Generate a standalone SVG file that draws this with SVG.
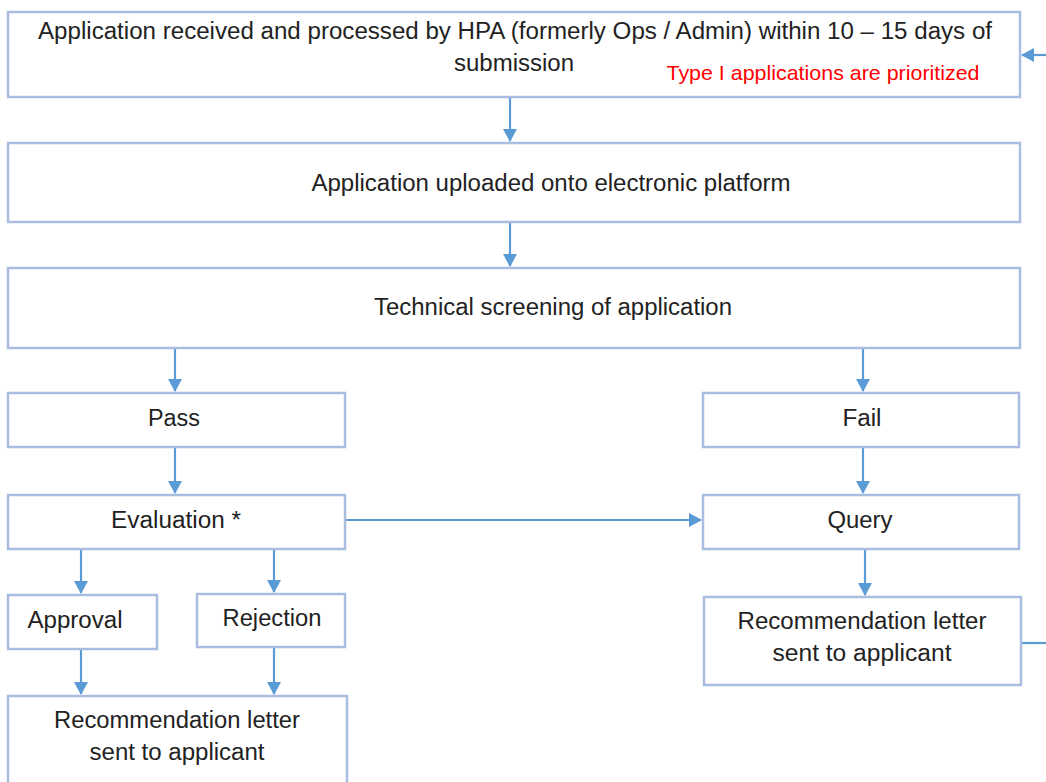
<svg xmlns="http://www.w3.org/2000/svg" width="1046" height="782" viewBox="0 0 1046 782">
<style>
.box{fill:#ffffff;stroke:#a9bde0;stroke-width:2.5}
.t{font-family:"Liberation Sans",Arial,sans-serif;font-size:23px;fill:#222222;text-anchor:middle}
.red{font-family:"Liberation Sans",Arial,sans-serif;font-size:21px;fill:#ff0000;text-anchor:middle}
.c{stroke:#5b9bd5;stroke-width:2.2;fill:none}
</style>
<defs>
<marker id="ah" markerWidth="14" markerHeight="14" refX="12" refY="7" orient="auto" markerUnits="userSpaceOnUse">
<path d="M0,0 L13,7 L0,14 Z" fill="#5b9bd5"/>
</marker>
</defs>
<rect width="1046" height="782" fill="#ffffff"/>
<g id="connectors">
<line class="c" x1="510" y1="98" x2="510" y2="141" marker-end="url(#ah)"/>
<line class="c" x1="510" y1="223" x2="510" y2="266" marker-end="url(#ah)"/>
<line class="c" x1="175" y1="349" x2="175" y2="391" marker-end="url(#ah)"/>
<line class="c" x1="863" y1="349" x2="863" y2="391" marker-end="url(#ah)"/>
<line class="c" x1="175" y1="448" x2="175" y2="493" marker-end="url(#ah)"/>
<line class="c" x1="863" y1="448" x2="863" y2="493" marker-end="url(#ah)"/>
<line class="c" x1="346" y1="520" x2="701" y2="520" marker-end="url(#ah)"/>
<line class="c" x1="81" y1="550" x2="81" y2="593" marker-end="url(#ah)"/>
<line class="c" x1="274" y1="550" x2="274" y2="592" marker-end="url(#ah)"/>
<line class="c" x1="81" y1="650" x2="81" y2="694" marker-end="url(#ah)"/>
<line class="c" x1="274" y1="648" x2="274" y2="694" marker-end="url(#ah)"/>
<line class="c" x1="865" y1="550" x2="865" y2="595" marker-end="url(#ah)"/>
<line class="c" x1="1022" y1="643" x2="1046" y2="643"/>
<line class="c" x1="1046" y1="55" x2="1022" y2="55" marker-end="url(#ah)"/>
</g>
<g id="n1">
<rect class="box" x="8" y="12" width="1012" height="85"/>
<text class="t" x="515" y="39" textLength="954" lengthAdjust="spacingAndGlyphs">Application received and processed by HPA (formerly Ops / Admin) within 10 – 15 days of</text>
<text class="t" x="514" y="71" textLength="120" lengthAdjust="spacingAndGlyphs">submission</text>
<text class="red" x="823" y="80" textLength="313" lengthAdjust="spacingAndGlyphs">Type I applications are prioritized</text>
</g>
<g id="n2">
<rect class="box" x="8" y="143" width="1012" height="79"/>
<text class="t" x="551" y="191" textLength="479" lengthAdjust="spacingAndGlyphs">Application uploaded onto electronic platform</text>
</g>
<g id="n3">
<rect class="box" x="8" y="268" width="1012" height="80"/>
<text class="t" x="553" y="315" textLength="358" lengthAdjust="spacingAndGlyphs">Technical screening of application</text>
</g>
<g id="pass">
<rect class="box" x="8" y="393" width="337" height="54"/>
<text class="t" x="174" y="426" textLength="52" lengthAdjust="spacingAndGlyphs">Pass</text>
</g>
<g id="fail">
<rect class="box" x="703" y="393" width="316" height="54"/>
<text class="t" x="862" y="426" textLength="39" lengthAdjust="spacingAndGlyphs">Fail</text>
</g>
<g id="evaluation">
<rect class="box" x="8" y="495" width="337" height="54"/>
<text class="t" x="176" y="528" textLength="130" lengthAdjust="spacingAndGlyphs">Evaluation *</text>
</g>
<g id="query">
<rect class="box" x="703" y="495" width="316" height="54"/>
<text class="t" x="860" y="528" textLength="65" lengthAdjust="spacingAndGlyphs">Query</text>
</g>
<g id="approval">
<rect class="box" x="8" y="595" width="149" height="54"/>
<text class="t" x="75" y="628" textLength="95" lengthAdjust="spacingAndGlyphs">Approval</text>
</g>
<g id="rejection">
<rect class="box" x="197" y="594" width="148" height="53"/>
<text class="t" x="272" y="626" textLength="99" lengthAdjust="spacingAndGlyphs">Rejection</text>
</g>
<g id="rec-left">
<rect class="box" x="8" y="696" width="339" height="95"/>
<text class="t" x="177" y="728" textLength="246" lengthAdjust="spacingAndGlyphs">Recommendation letter</text>
<text class="t" x="177" y="760" textLength="175" lengthAdjust="spacingAndGlyphs">sent to applicant</text>
</g>
<g id="rec-right">
<rect class="box" x="704" y="597" width="317" height="88"/>
<text class="t" x="862" y="629" textLength="249" lengthAdjust="spacingAndGlyphs">Recommendation letter</text>
<text class="t" x="862" y="661" textLength="179" lengthAdjust="spacingAndGlyphs">sent to applicant</text>
</g>
</svg>
